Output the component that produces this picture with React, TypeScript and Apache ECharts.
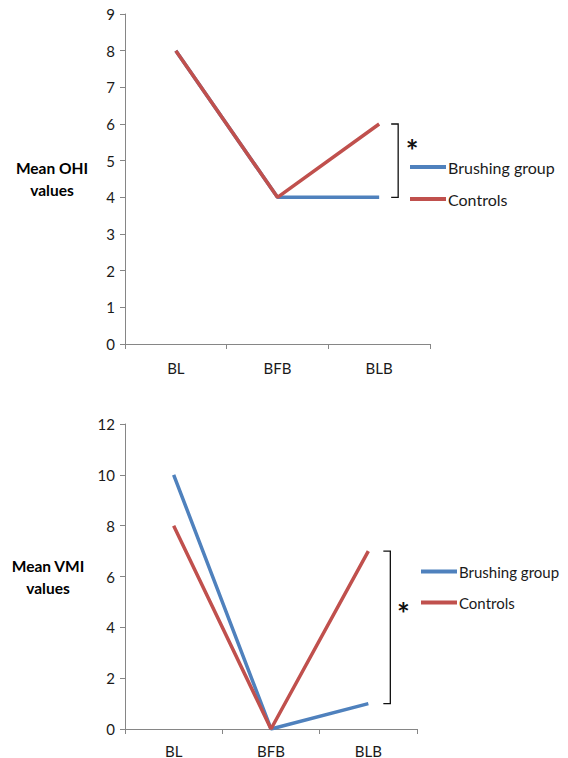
import React, { useEffect, useRef } from "react";
import * as echarts from "echarts";

const categories = ["BL", "BFB", "BLB"];
const seriesNames = ["Brushing group", "Controls"];
const ohiBrushing = [8, 4, 4];
const ohiControls = [8, 4, 6];
const vmiBrushing = [10, 0, 1];
const vmiControls = [8, 0, 7];
// [category index, bracket low, bracket high, asterisk level]
const ohiBracket = [[2, 4, 6, 5.48]];
const vmiBracket = [[2, 1, 7, 4.82]];

const BLUE = "#4F81BD";
const RED = "#C0504D";
const AXIS = "#868686";
const TEXT = "#1a1a1a";
const FONT = "Lato, 'Open Sans', sans-serif";

function bracketRenderer(offset: number, starOffset: number) {
  return (params: any, api: any) => {
    const top = api.coord([api.value(0), api.value(2)]);
    const bot = api.coord([api.value(0), api.value(1)]);
    const star = api.coord([api.value(0), api.value(3)]);
    const bx = top[0] + offset;
    return {
      type: "group",
      children: [
        {
          type: "polyline",
          shape: {
            points: [
              [bx - 7, top[1]],
              [bx, top[1]],
              [bx, bot[1]],
              [bx - 7, bot[1]],
            ],
          },
          style: { stroke: "#111", lineWidth: 1.3, fill: "none" },
        },
        {
          type: "text",
          x: bx + starOffset,
          y: star[1] + 7,
          style: {
            text: "*",
            fontSize: 30,
            fontWeight: "bold",
            fontFamily: FONT,
            align: "center",
            verticalAlign: "middle",
            fill: "#111",
          },
        },
      ],
    };
  };
}

function yAxis(gridIndex: number, max: number, interval: number, name: string, nameGap: number) {
  return {
    type: "value",
    gridIndex,
    min: 0,
    max,
    interval,
    name,
    nameLocation: "middle",
    nameRotate: 0,
    nameGap,
    nameTextStyle: {
      align: "center",
      fontFamily: FONT,
      fontWeight: "bold",
      fontSize: 15.5,
      lineHeight: 22,
      color: "#000",
    },
    axisLine: { show: true, lineStyle: { color: AXIS, width: 1 } },
    axisTick: { show: true, length: 5, lineStyle: { color: AXIS } },
    splitLine: { show: false },
    axisLabel: { fontFamily: FONT, fontSize: 15, color: TEXT, margin: 10 },
  };
}

function xAxis(gridIndex: number, margin: number) {
  return {
    type: "category",
    gridIndex,
    data: categories,
    boundaryGap: true,
    axisLine: { show: true, lineStyle: { color: AXIS, width: 1 } },
    axisTick: { show: true, length: 5, alignWithLabel: false, lineStyle: { color: AXIS } },
    axisLabel: { fontFamily: FONT, fontSize: 15, color: TEXT, margin },
    splitLine: { show: false },
  };
}

function lineSeries(name: string, data: number[], color: string, idx: number) {
  return {
    type: "line",
    name,
    data,
    xAxisIndex: idx,
    yAxisIndex: idx,
    symbol: "none",
    lineStyle: { color, width: 3.5 },
    itemStyle: { color },
  };
}

function legend(left: number, top: number, itemGap: number, fontSize: number) {
  return {
    orient: "vertical",
    left,
    top,
    padding: 0,
    data: seriesNames,
    icon: "rect",
    itemWidth: 36,
    itemHeight: 4,
    itemGap,
    selectedMode: false,
    textStyle: { fontFamily: FONT, fontSize, color: TEXT, padding: [0, 0, 0, -3] },
  };
}

export default function App() {
  const ref = useRef<HTMLDivElement>(null);
  useEffect(() => {
    document.body.style.margin = "0";
    const chart = echarts.init(ref.current!, undefined, { renderer: "svg" });
    chart.setOption({
      animation: false,
      backgroundColor: "#fff",
      grid: [
        { left: 125, top: 14, width: 305, height: 330 },
        { left: 125, top: 424, width: 292, height: 306 },
      ],
      xAxis: [xAxis(0, 16), xAxis(1, 14)],
      yAxis: [
        yAxis(0, 9, 1, "Mean OHI\nvalues", 73),
        yAxis(1, 12, 2, "Mean VMI\nvalues", 77),
      ],
      legend: [legend(410, 159, 16, 16), legend(421, 564, 16, 15)],
      series: [
        lineSeries(seriesNames[0], ohiBrushing, BLUE, 0),
        lineSeries(seriesNames[1], ohiControls, RED, 0),
        lineSeries(seriesNames[0], vmiBrushing, BLUE, 1),
        lineSeries(seriesNames[1], vmiControls, RED, 1),
        {
          type: "custom",
          name: "ohiBracket",
          xAxisIndex: 0,
          yAxisIndex: 0,
          data: ohiBracket,
          encode: { x: 0, y: [1, 2, 3] },
          renderItem: bracketRenderer(19, 14),
          silent: true,
        },
        {
          type: "custom",
          name: "vmiBracket",
          xAxisIndex: 1,
          yAxisIndex: 1,
          data: vmiBracket,
          encode: { x: 0, y: [1, 2, 3] },
          renderItem: bracketRenderer(22, 13),
          silent: true,
        },
      ],
    });
    return () => chart.dispose();
  }, []);
  return (
    <div
      ref={ref}
      style={{ position: "absolute", left: 0, top: 0, width: 568, height: 758 }}
    />
  );
}
